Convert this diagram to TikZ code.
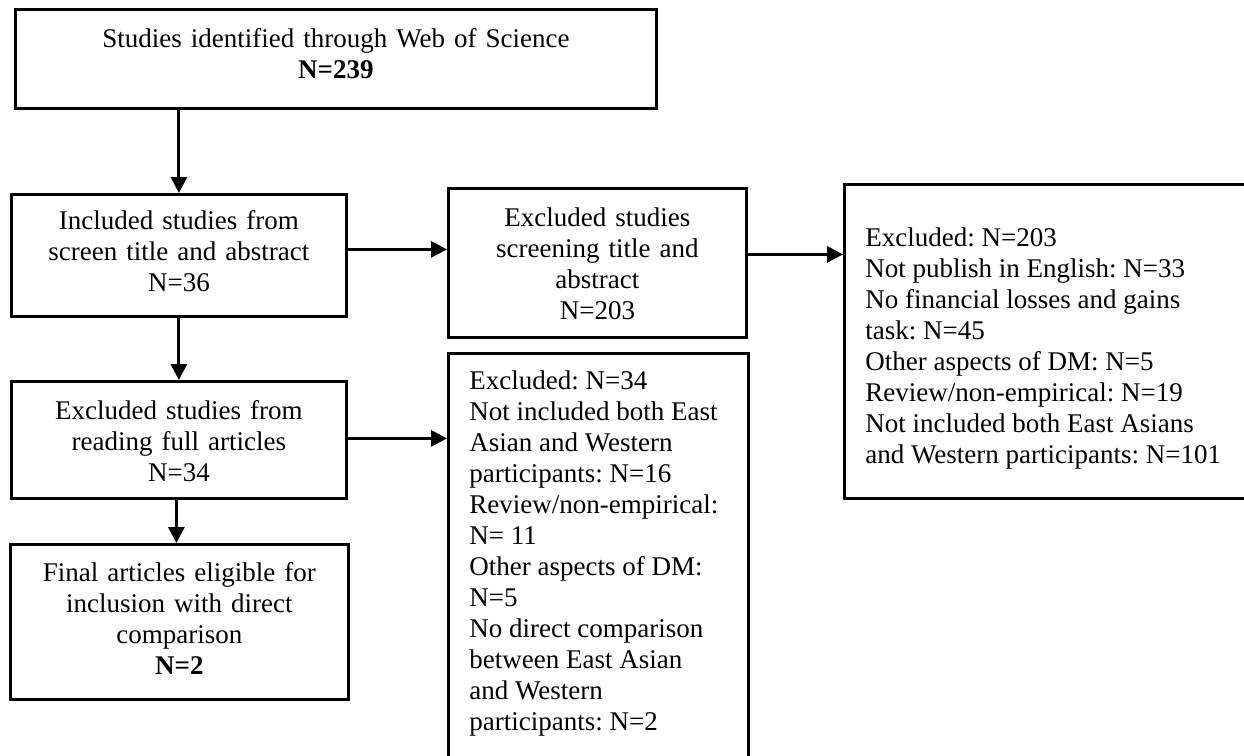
\documentclass[tikz,border=0pt]{standalone}
\usepackage{fontspec}
\setmainfont{Liberation Serif}
\usetikzlibrary{arrows.meta,calc}
\frenchspacing

\begin{document}
\begin{tikzpicture}[x=1pt,y=-1pt,
  flowbox/.style={draw, line width=2.8pt, anchor=north west, inner ysep=0pt,
    font=\fontsize{27}{31}\selectfont\frenchspacing},
  centred/.style={flowbox, inner xsep=0pt, align=center},
  listbox/.style={flowbox, inner xsep=21pt, align=flush left},
  conn/.style={line width=3pt, -{Triangle[length=16pt,width=16pt]}}]
\useasboundingbox (0,0) rectangle (1244,755);
\clip (0,0) rectangle (1244,755);

% boxes: top-left corner, width, distance to first baseline, distance below it
\node[centred, text width=641pt, text height=38pt, text depth=61pt] (ident) at (14,8)
  {Studies identified through Web of Science\\ {\bfseries N=239}};
\node[centred, text width=335pt, text height=35pt, text depth=87pt] (incl) at (10,193)
  {Included studies from\\ screen title and abstract\\ N=36};
\node[centred, text width=298pt, text height=38pt, text depth=111pt] (exscreen) at (447,187)
  {Excluded studies\\ screening title and\\ abstract\\ N=203};
\node[listbox, text width=376pt, text height=62pt, text depth=252pt] (exlist) at (843,183)
  {Excluded: N=203\\ Not publish in English: N=33\\ No financial losses and gains\\
   task: N=45\\ Other aspects of DM: N=5\\ Review/non-empirical: N=19\\
   Not included both East Asians\\ and Western participants: N=101};
\node[centred, text width=335pt, text height=38pt, text depth=79pt] (exfull) at (10,380)
  {Excluded studies from\\ reading full articles\\ N=34};
\node[listbox, text width=258pt, text height=36pt, text depth=440pt] (exfulllist) at (447,352)
  {Excluded: N=34\\ Not included both East\\ Asian and Western\\ participants: N=16\\
   Review/non-empirical:\\ N= 11\\ Other aspects of DM:\\ N=5\\ No direct comparison\\
   between East Asian\\ and Western\\ participants: N=2};
\node[centred, text width=338pt, text height=37pt, text depth=118pt] (final) at (9,543)
  {Final articles eligible for\\ inclusion with direct\\ comparison\\ {\bfseries N=2}};

% connectors
\draw[conn] (ident.south -| incl.north) -- (incl.north);
\coordinate (a1) at ($(incl.east)+(0,-6)$);
\draw[conn] (a1) -- (a1 -| exscreen.west);
\coordinate (a2) at ($(exscreen.east)+(0,-8.5)$);
\draw[conn] (a2) -- (a2 -| exlist.west);
\draw[conn] (incl.south) -- (exfull.north);
\coordinate (a3) at ($(exfull.east)+(0,-1.5)$);
\draw[conn] (a3) -- (a3 -| exfulllist.west);
\coordinate (a4) at ($(exfull.south)+(-2.5,0)$);
\draw[conn] (a4) -- (a4 |- final.north);
\end{tikzpicture}
\end{document}
